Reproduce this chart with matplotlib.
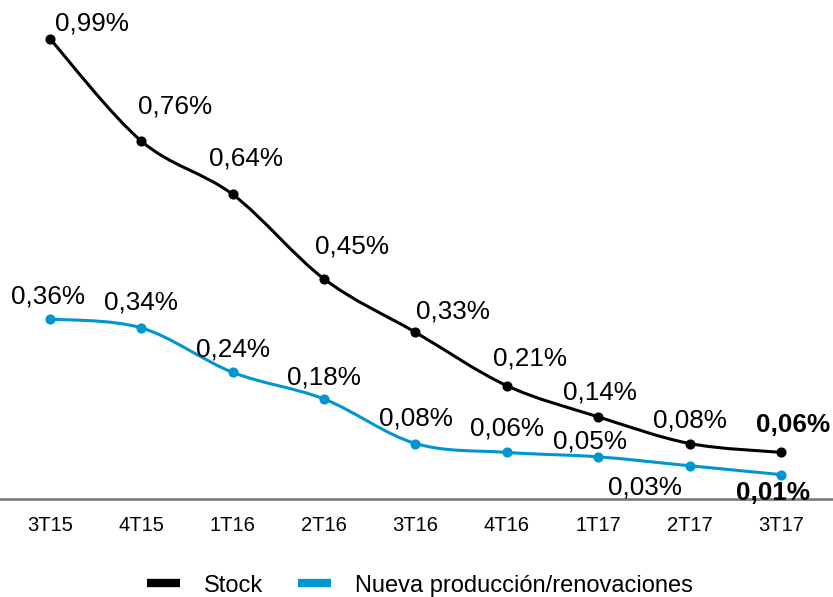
import matplotlib
matplotlib.use("Agg")
import matplotlib.pyplot as plt
from matplotlib.path import Path
from matplotlib.patches import PathPatch
from matplotlib.lines import Line2D
import numpy as np

plt.rcParams['font.family'] = ['Liberation Sans', 'DejaVu Sans']

categories = ["3T15", "4T15", "1T16", "2T16", "3T16", "4T16", "1T17", "2T17", "3T17"]
stock = [0.99, 0.76, 0.64, 0.45, 0.33, 0.21, 0.14, 0.08, 0.06]
nueva = [0.36, 0.34, 0.24, 0.18, 0.08, 0.06, 0.05, 0.03, 0.01]
series_names = ["Stock", "Nueva producción/renovaciones"]

BLACK = "#000000"
BLUE = "#0096D1"

# label offsets in pixels (dx, dy), styling only
stock_off = [(42, 15), (34, 35), (13, 36), (28, 32), (37, 21), (23, 27), (2, 24), (0, 23), (12, 27)]
nueva_off = [(-2, 22), (0, 25), (0, 23), (0, 22), (0, 25), (0, 24), (-8, 15), (-45, -22), (-8, -18)]

fig = plt.figure(figsize=(8.33, 5.97), dpi=100)
ax = fig.add_axes([0.0, 0.164, 1.0, 0.80])

x = np.arange(len(categories))


def smooth_path(xs, ys, t=1.0):
    pts = np.column_stack([xs, ys]).astype(float)
    n = len(pts)
    verts = [pts[0]]
    codes = [Path.MOVETO]
    for i in range(n - 1):
        p0 = pts[i - 1] if i > 0 else pts[i]
        p1 = pts[i]
        p2 = pts[i + 1]
        p3 = pts[i + 2] if i + 2 < n else pts[i + 1]
        c1 = p1 + (p2 - p0) / 6.0 * t
        c2 = p2 - (p3 - p1) / 6.0 * t
        verts += [c1, c2, p2]
        codes += [Path.CURVE4] * 3
    return Path(verts, codes)


for vals, col, offs, name in [(stock, BLACK, stock_off, series_names[0]),
                               (nueva, BLUE, nueva_off, series_names[1])]:
    patch = PathPatch(smooth_path(x, vals), facecolor='none', edgecolor=col, lw=2.2,
                      capstyle='round', joinstyle='round', zorder=2)
    ax.add_patch(patch)
    ax.plot(x, vals, 'o', color=col, markersize=6.3, zorder=3)
    for i, (xv, v) in enumerate(zip(x, vals)):
        lab = f"{v:.2f}%".replace(".", ",")
        bold = (i == len(vals) - 1)
        ax.annotate(lab, (xv, v), xytext=offs[i], textcoords='offset pixels',
                    ha='center', va='center', fontsize=18.8,
                    fontweight='bold' if bold else 'normal', color='#000000', zorder=4)

ax.set_xlim(-0.547, 8.569)
ax.set_ylim(-0.045, 1.029)
ax.axhline(-0.045, color='#808080', lw=2.0, zorder=1, clip_on=False)
for s in ax.spines.values():
    s.set_visible(False)
ax.set_yticks([])
ax.set_xticks(x)
ax.set_xticklabels(categories, fontsize=14.5)
ax.tick_params(axis='x', length=0, pad=12)
ax.patch.set_alpha(0)

handles = [Line2D([0], [0], color=BLACK, lw=6, solid_capstyle='butt'),
           Line2D([0], [0], color=BLUE, lw=6, solid_capstyle='butt')]
fig.legend(handles, series_names, loc='center', bbox_to_anchor=(0.504, 0.019), ncol=2,
           frameon=False, fontsize=17, handlelength=1.4, handletextpad=1.0, columnspacing=1.5)

fig.savefig("out.png", dpi=100)
